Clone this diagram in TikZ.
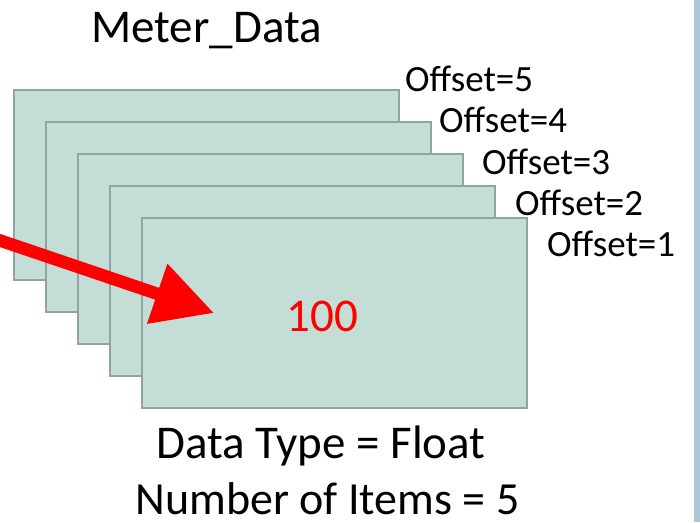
\documentclass[tikz,border=0pt]{standalone}
\usepackage{fontspec}
\setmainfont{Carlito}
\usetikzlibrary{arrows.meta}
\definecolor{cardfill}{RGB}{197,221,215}
\definecolor{cardedge}{RGB}{145,165,160}
\definecolor{sidebar}{RGB}{169,201,219}
\begin{document}
\begin{tikzpicture}[x=1pt,y=-1pt,
  card/.style={draw=cardedge, fill=cardfill, line width=2pt, anchor=north west,
    minimum width=385pt, minimum height=190pt, inner sep=0pt, outer sep=0pt},
  bigtext/.style={font=\fontsize{47}{56}\selectfont, inner sep=0pt, anchor=base},
  offsetlabel/.style={font=\fontsize{37}{44}\selectfont, inner sep=0pt, anchor=base west},
  pointer/.style={draw=red, line width=12.5pt, -{Triangle[length=60pt,width=60pt]}}]
\useasboundingbox (0,0) rectangle (700,522);
\fill[white] (0,0) rectangle (700,522);
% sidebar along the right edge
\fill[sidebar] (694,0) rectangle (700,522);

\node[bigtext] (title) at (206.5,42) {Meter\_Data};

% stacked records, back to front
\node[card] (o5) at (14,90) {};
\node[card] (o4) at (46,122) {};
\node[card] (o3) at (78,154) {};
\node[card] (o2) at (110,186) {};
\node[card] (o1) at (142,218) {};

\node[offsetlabel] (l5) at (405,91) {Offset=5};
\node[offsetlabel] (l4) at (439,132.5) {Offset=4};
\node[offsetlabel] (l3) at (482,174) {Offset=3};
\node[offsetlabel] (l2) at (515,215) {Offset=2};
\node[offsetlabel] (l1) at (547,256) {Offset=1};

\node[bigtext, text=red] (value) at (322.5,331.5) {100};

% pointer into the front record
\coordinate (ptail) at (-20,233.7);
\coordinate (ptip) at (214,313);
\draw[pointer] (ptail) -- (ptip);

\node[bigtext] (dtype) at (321,458) {Data Type = Float};
\node[bigtext, font=\fontsize{46}{55}\selectfont, text depth=0pt] (nitems) at (327.5,514) {Number of Items = 5};
\end{tikzpicture}
\end{document}
